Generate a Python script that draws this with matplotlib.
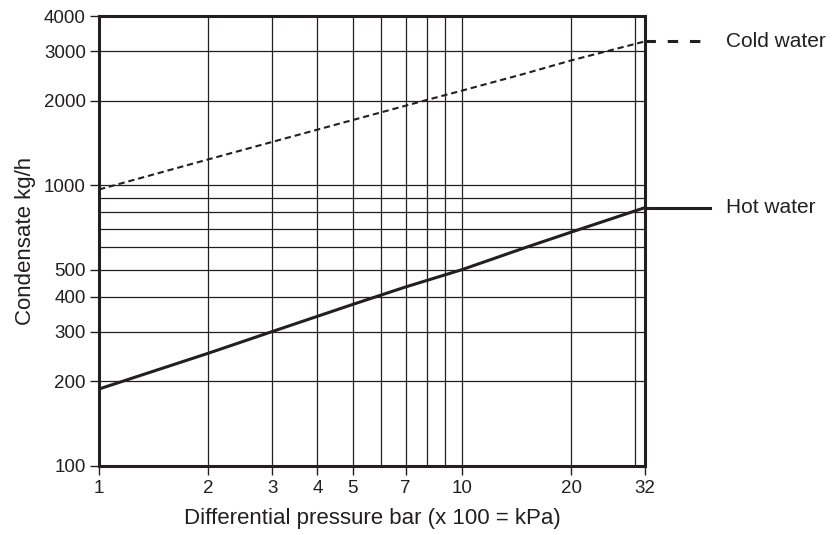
"""
Condensate capacity vs differential pressure (hot / cold water).
"""
import matplotlib
matplotlib.use("Agg")
import matplotlib.pyplot as plt
import matplotlib.transforms as mtransforms

INK = "#231f20"

# Differential pressure (bar) and condensate (kg/h)
hot_pressure = [1, 2, 3, 5, 7, 10, 15, 20, 32]
hot_condensate = [188, 252, 301, 376, 434, 500, 600, 680, 832]

cold_pressure = [1, 2, 3, 5, 8, 10, 15, 20, 32]
cold_condensate = [965, 1235, 1425, 1705, 2010, 2170, 2500, 2780, 3250]

x_ticks = [1, 2, 3, 4, 5, 7, 10, 20, 32]
x_grid = [2, 3, 4, 5, 6, 7, 8, 9, 10, 20, 30]
y_ticks = [100, 200, 300, 400, 500, 1000, 2000, 3000, 4000]
y_grid = [200, 300, 400, 500, 600, 700, 800, 900, 1000, 2000, 3000]

plt.rcParams["font.family"] = ["Liberation Sans", "DejaVu Sans"]
plt.rcParams["lines.scale_dashes"] = False

fig = plt.figure(figsize=(8.35, 5.35), dpi=100)
ax = fig.add_axes([0.1186, 0.129, 0.654, 0.841])

ax.set_xscale("log")
ax.set_yscale("log")
ax.set_xlim(1, 32)
ax.set_ylim(100, 4000)

# Grid
for xv in x_grid:
    ax.axvline(xv, color=INK, lw=0.9, zorder=1)
for yv in y_grid:
    ax.axhline(yv, color=INK, lw=0.9, zorder=1)

# Curves
ax.plot(hot_pressure, hot_condensate, color=INK, lw=2.2, zorder=3)
ax.plot(cold_pressure, cold_condensate, color=INK, lw=1.5,
        linestyle=(0, (4.5, 2.8)), zorder=3)

# Labels to the right of the plot
trans = mtransforms.blended_transform_factory(ax.transAxes, ax.transData)
ax.plot([1.0, 1.118], [hot_condensate[-1]] * 2, color=INK, lw=2.2,
        transform=trans, clip_on=False)
ax.plot([1.0, 1.118], [cold_condensate[-1]] * 2, color=INK, lw=2.2,
        linestyle=(0, (7.5, 8.5)), transform=trans, clip_on=False)
ax.text(1.148, hot_condensate[-1], "Hot water", transform=trans,
        va="center", ha="left", fontsize=15, color=INK)
ax.text(1.148, cold_condensate[-1], "Cold water", transform=trans,
        va="center", ha="left", fontsize=15, color=INK)

# Ticks
ax.set_xticks(x_ticks)
ax.set_xticklabels([str(v) for v in x_ticks])
ax.set_yticks(y_ticks)
ax.set_yticklabels([str(v) for v in y_ticks])
ax.minorticks_off()
ax.tick_params(axis="both", colors=INK, labelsize=13.5, width=1.0)
ax.tick_params(axis="x", length=6.5, pad=3.5)
ax.tick_params(axis="y", length=6.5, pad=3)

for spine in ax.spines.values():
    spine.set_linewidth(2.2)
    spine.set_color(INK)

ax.set_xlabel("Differential pressure bar (x 100 = kPa)", fontsize=16,
              color=INK, labelpad=8)
ax.set_ylabel("Condensate kg/h", fontsize=16, color=INK, labelpad=6)

fig.savefig("out.png", dpi=100)
